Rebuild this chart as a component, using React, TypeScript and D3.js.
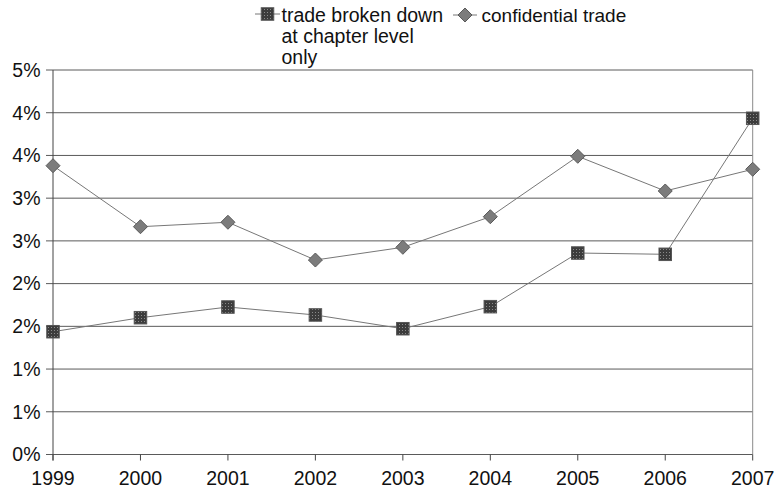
import React from "react";
import * as d3 from "d3";

const years = ["1999", "2000", "2001", "2002", "2003", "2004", "2005", "2006", "2007"];
const chapterOnly = [1.437, 1.601, 1.726, 1.633, 1.472, 1.73, 2.358, 2.343, 3.935];
const confidential = [3.38, 2.666, 2.718, 2.276, 2.425, 2.783, 3.49, 3.084, 3.338];
const yTicks = [0, 0.5, 1, 1.5, 2, 2.5, 3, 3.5, 4, 4.5];
const chapterLabel = ["trade broken down", "at chapter level", "only"];
const confidentialLabel = "confidential trade";

const W = 776;
const H = 494;
const left = 53;
const right = 752.7;
const top = 70;
const bottom = 454.5;
const FONT = "'Liberation Sans', Arial, sans-serif";

export default function App() {
  const x = d3.scalePoint<string>().domain(years).range([left, right]);
  const y = d3.scaleLinear().domain([0, 4.5]).range([bottom, top]);
  const line = d3
    .line<number>()
    .x((_, i) => x(years[i]) as number)
    .y((d) => y(d));
  // percent labels rounded to whole numbers, halves rounding up
  const label = (v: number) => `${Math.floor(v + 0.5)}%`;

  const sq = 12.5;
  const dm = 7;
  const square = (cx: number, cy: number, key?: string | number) => (
    <rect
      key={key}
      x={cx - sq / 2}
      y={cy - sq / 2}
      width={sq}
      height={sq}
      fill="url(#sqPat)"
      stroke="#555"
      strokeWidth={1}
    />
  );
  const diamond = (cx: number, cy: number, key?: string | number) => (
    <path
      key={key}
      d={`M${cx},${cy - dm}L${cx + dm},${cy}L${cx},${cy + dm}L${cx - dm},${cy}Z`}
      fill="#7c7c7c"
      stroke="#5a5a5a"
      strokeWidth={1}
    />
  );

  return (
    <svg width={W} height={H} style={{ position: "absolute", left: 0, top: 0, background: "#fff" }}>
      <defs>
        <pattern id="sqPat" width={3} height={3} patternUnits="userSpaceOnUse">
          <rect width={3} height={3} fill="#3c3c3c" />
          <rect width={1} height={1} fill="#8a8a8a" />
        </pattern>
      </defs>
      <rect width={W} height={H} fill="#fff" />

      {/* gridlines with left tick marks */}
      {yTicks.map((t) => (
        <line key={`g${t}`} x1={left - 7} x2={right} y1={y(t)} y2={y(t)} stroke="#5a5a5a" strokeWidth={1} />
      ))}
      <line x1={right} x2={right} y1={top} y2={bottom} stroke="#8a8a8a" strokeWidth={1} />
      <line x1={left} x2={left} y1={top} y2={bottom + 6} stroke="#444" strokeWidth={1} />
      {years.map((yr) => (
        <line key={`t${yr}`} x1={x(yr)} x2={x(yr)} y1={bottom} y2={bottom + 6} stroke="#444" strokeWidth={1} />
      ))}

      {/* y labels */}
      {yTicks.map((t) => (
        <text key={`yl${t}`} x={40.5} y={y(t)} dy="0.35em" textAnchor="end" fontFamily={FONT} fontSize={19.5} fill="#111">
          {label(t)}
        </text>
      ))}
      {/* x labels */}
      {years.map((yr) => (
        <text key={`xl${yr}`} x={x(yr)} y={485} textAnchor="middle" fontFamily={FONT} fontSize={19.5} fill="#111">
          {yr}
        </text>
      ))}

      {/* series */}
      <path d={line(confidential) || ""} fill="none" stroke="#777" strokeWidth={1} />
      <path d={line(chapterOnly) || ""} fill="none" stroke="#777" strokeWidth={1} />
      {confidential.map((v, i) => diamond(x(years[i]) as number, y(v), `d${i}`))}
      {chapterOnly.map((v, i) => square(x(years[i]) as number, y(v), `s${i}`))}

      {/* legend */}
      <line x1={255} x2={280} y1={14} y2={14} stroke="#777" strokeWidth={1} />
      {square(267.5, 14)}
      {chapterLabel.map((s, i) => (
        <text key={`l0${i}`} x={281.5} y={22 + i * 21} fontFamily={FONT} fontSize={19.5} fill="#111">
          {s}
        </text>
      ))}
      <line x1={453} x2={477} y1={15} y2={15} stroke="#777" strokeWidth={1} />
      {diamond(465, 15)}
      <text x={481.5} y={22} fontFamily={FONT} fontSize={19} fill="#111">
        {confidentialLabel}
      </text>
    </svg>
  );
}
